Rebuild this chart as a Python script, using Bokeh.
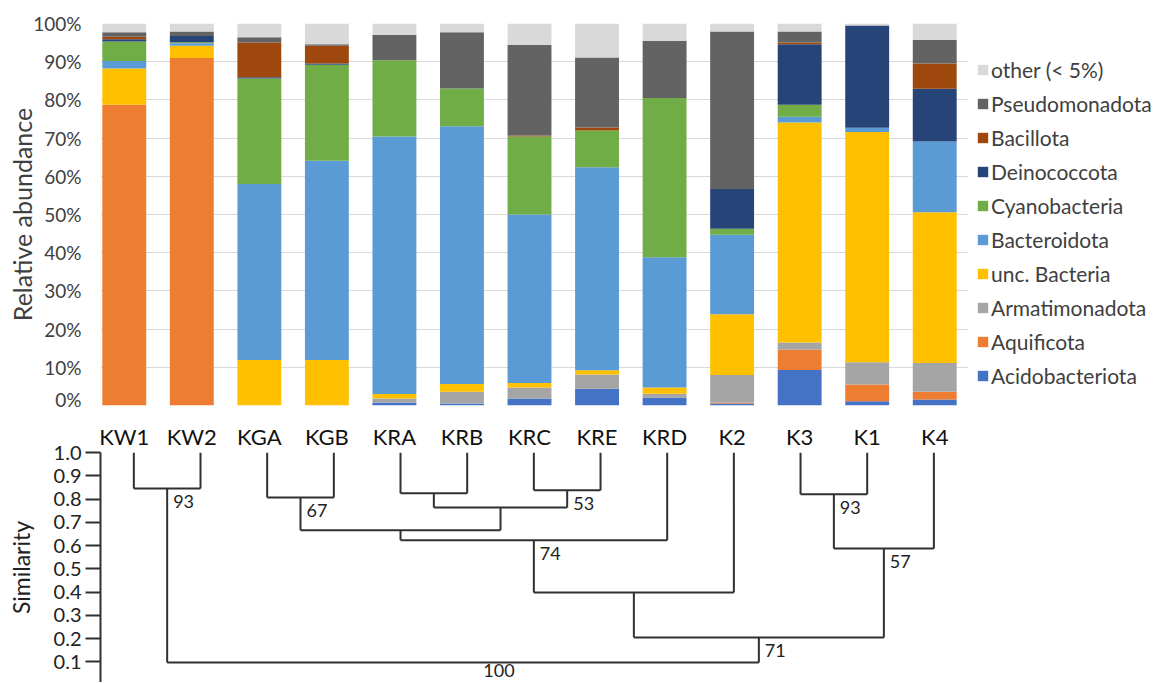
from bokeh.plotting import figure
from bokeh.models import (Range1d, FixedTicker, PrintfTickFormatter, Legend,
                          LegendItem, LinearAxis, ColumnDataSource)
from bokeh.layouts import column
from bokeh.embed import file_html
from bokeh.resources import INLINE
from bokeh.core.properties import value

# ---------------- data ----------------
samples = ["KW1", "KW2", "KGA", "KGB", "KRA", "KRB", "KRC", "KRE", "KRD", "K2", "K3", "K1", "K4"]

phyla = ["Acidobacteriota", "Aquificota", "Armatimonadota", "unc. Bacteria", "Bacteroidota",
         "Cyanobacteria", "Deinococcota", "Bacillota", "Pseudomonadota", "other (< 5%)"]

acidobacteriota = [0, 0, 0, 0, 0.8, 0.5, 1.8, 4.4, 2.1, 0.5, 9.3, 1.1, 1.6]
aquificota      = [78.7, 91.0, 0, 0, 0, 0, 0, 0, 0, 0.3, 5.3, 4.4, 2.0]
armatimonadota  = [0, 0, 0, 0, 1.0, 3.1, 2.9, 3.7, 1.0, 7.2, 1.9, 5.8, 7.5]
unc_bacteria    = [9.5, 3.2, 11.9, 11.9, 1.2, 2.0, 1.2, 1.1, 1.6, 15.9, 57.6, 60.3, 39.5]
bacteroidota    = [2.0, 0.6, 46.1, 52.2, 67.4, 67.5, 44.1, 53.2, 34.1, 20.8, 1.5, 1.1, 18.5]
cyanobacteria   = [5.1, 0.3, 27.6, 25.1, 20.0, 9.9, 20.4, 9.6, 41.7, 1.6, 3.1, 0, 0]
deinococcota    = [0.6, 1.6, 0.3, 0.3, 0, 0, 0, 0, 0, 10.4, 15.9, 26.8, 13.8]
bacillota       = [0.6, 0, 9.1, 4.7, 0, 0, 0.3, 0.8, 0, 0, 0.4, 0, 6.6]
pseudomonadota  = [1.2, 1.2, 1.4, 0.4, 6.6, 14.7, 23.7, 18.3, 15.0, 41.2, 2.9, 0, 6.2]
other           = [2.3, 2.1, 3.6, 5.4, 3.0, 2.3, 5.6, 8.9, 4.5, 2.1, 2.1, 0.5, 4.3]

percent_ticks = [0, 10, 20, 30, 40, 50, 60, 70, 80, 90, 100]

# dendrogram (leaf indices 0..12 follow `samples`; merged nodes numbered from 13 on)
merge_left       = [0, 2, 4, 6, 15, 14, 18, 19, 10, 21, 20, 13]
merge_right      = [1, 3, 5, 7, 16, 17, 8, 9, 11, 12, 22, 23]
merge_similarity = [0.845, 0.807, 0.825, 0.838, 0.764, 0.666, 0.623, 0.398, 0.820, 0.587, 0.205, 0.097]
bootstrap_nodes  = [13, 14, 16, 19, 21, 22, 23]
bootstrap_values = ["93", "67", "53", "74", "93", "57", "71"]
root_value = "100"
similarity_ticks = [0.1, 0.2, 0.3, 0.4, 0.5, 0.6, 0.7, 0.8, 0.9, 1.0]

# ---------------- style / layout ----------------
colors = ["#4472C4", "#ED7D31", "#A5A5A5", "#FFC000", "#5B9BD5",
          "#70AD47", "#264478", "#9E480E", "#636363", "#D9D9D9"]
FONT = "Lato"
GREY_TXT = "#404040"
DARK = "#222222"

LEFT = 100            # shared frame left (px) of both panels
FW = 868              # shared frame width (px)
TOTAL_W = 1160
GRID_LEFT = 90        # where the bar chart's category band starts (px)
BAR_STEP = (LEFT + FW - GRID_LEFT) / 13.0
LEAF_STEP = 66.67     # dendrogram leaf spacing (px)
BAR_FH, DEN_FH = 382, 230

n = len(samples)
idx = list(range(n))

# ---------------- bar chart ----------------
keys = ["p%d" % i for i in range(len(phyla))]
series = [acidobacteriota, aquificota, armatimonadota, unc_bacteria, bacteroidota,
          cyanobacteria, deinococcota, bacillota, pseudomonadota, other]
src = ColumnDataSource(dict(pos=idx, sample=samples, **{k: v for k, v in zip(keys, series)}))

bar_start = -0.5 + (LEFT - GRID_LEFT) / BAR_STEP
p1 = figure(x_range=Range1d(bar_start, bar_start + FW / BAR_STEP), y_range=Range1d(0, 100),
            frame_width=FW, frame_height=BAR_FH, output_backend="svg", toolbar_location=None,
            x_axis_location=None, min_border_left=LEFT,
            min_border_right=TOTAL_W - LEFT - FW, min_border_top=23, min_border_bottom=5)
p1.outline_line_color = None
renderers = p1.vbar_stack(keys, x="pos", width=0.65, color=colors, line_color=None, source=src)

yax = p1.yaxis[0]
yax.ticker = FixedTicker(ticks=percent_ticks)
yax.formatter = PrintfTickFormatter(format="%d%%")
yax.axis_line_color = None
yax.major_tick_line_color = None
yax.minor_tick_line_color = None
yax.major_label_standoff = 13
yax.major_label_text_font = FONT
yax.major_label_text_font_size = "19px"
yax.major_label_text_color = GREY_TXT
yax.axis_label = "Relative abundance"
yax.axis_label_text_font = FONT
yax.axis_label_text_font_size = "25px"
yax.axis_label_text_font_style = "normal"
yax.axis_label_text_color = GREY_TXT
yax.axis_label_standoff = -7
p1.ygrid.grid_line_color = "#D9D9D9"
p1.ygrid.grid_line_width = 1
p1.xgrid.visible = False

items = [LegendItem(label=ph, renderers=[r]) for ph, r in zip(phyla, renderers)][::-1]
legend = Legend(items=items, location=(8, 17), padding=0, margin=0, spacing=9,
                glyph_width=13, glyph_height=13, label_standoff=2,
                label_text_font=FONT, label_text_font_size="21px", label_text_color=GREY_TXT,
                border_line_color=None, background_fill_alpha=0)
p1.add_layout(legend, "right")

# ---------------- dendrogram ----------------
node_x = {i: float(i) for i in range(n)}
node_h = {i: 1.0 for i in range(n)}
x0, y0, x1, y1 = [], [], [], []
for k, (a, b, s) in enumerate(zip(merge_left, merge_right, merge_similarity)):
    nid = n + k
    xa, xb = node_x[a], node_x[b]
    x0 += [xa, xb, xa]
    y0 += [node_h[a], node_h[b], s]
    x1 += [xa, xb, xb]
    y1 += [s, s, s]
    node_x[nid] = (xa + xb) / 2.0
    node_h[nid] = s
root = n + len(merge_left) - 1

p2 = figure(x_range=Range1d(-0.5, -0.5 + FW / LEAF_STEP), y_range=Range1d(0.011, 1.0),
            frame_width=FW, frame_height=DEN_FH, output_backend="svg", toolbar_location=None,
            x_axis_location=None, min_border_left=LEFT,
            min_border_right=TOTAL_W - LEFT - FW, min_border_top=42, min_border_bottom=0)
p2.outline_line_color = None
p2.grid.visible = False
p2.segment(x0=x0, y0=y0, x1=x1, y1=y1, line_color="#303030", line_width=2)

p2.text(x=[node_x[i] for i in bootstrap_nodes], y=[node_h[i] for i in bootstrap_nodes],
        text=bootstrap_values, x_offset=6, y_offset=13, text_align="left", text_baseline="middle",
        text_font=value(FONT), text_font_size=value("18px"), text_color=DARK)
p2.text(x=[node_x[root]], y=[node_h[root]], text=[root_value], x_offset=36, y_offset=8,
        text_align="center", text_baseline="middle",
        text_font=value(FONT), text_font_size=value("18px"), text_color=DARK)

sax = p2.yaxis[0]
sax.ticker = FixedTicker(ticks=similarity_ticks)
sax.formatter = PrintfTickFormatter(format="%.1f")
sax.bounds = (0, 1)
sax.axis_line_width = 2
sax.axis_line_color = "#303030"
sax.major_tick_line_width = 2
sax.major_tick_line_color = "#303030"
sax.major_tick_out = 15
sax.major_tick_in = 0
sax.minor_tick_line_color = None
sax.major_label_standoff = 4
sax.major_label_text_font = FONT
sax.major_label_text_font_size = "20px"
sax.major_label_text_color = DARK
sax.axis_label = "Similarity"
sax.axis_label_text_font = FONT
sax.axis_label_text_font_size = "23px"
sax.axis_label_text_font_style = "normal"
sax.axis_label_text_color = DARK
sax.axis_label_standoff = 16

# sample names above the dendrogram, centred under the bars (same scale as the bar chart)
p2.extra_x_ranges = {"lab": p1.x_range}
lab_axis = LinearAxis(x_range_name="lab", ticker=FixedTicker(ticks=idx),
                      major_label_overrides={i: s for i, s in enumerate(samples)})
lab_axis.axis_line_color = None
lab_axis.major_tick_line_color = None
lab_axis.minor_tick_line_color = None
lab_axis.major_label_standoff = -3
lab_axis.major_label_text_font = FONT
lab_axis.major_label_text_font_size = "22px"
lab_axis.major_label_text_color = "#111111"
p2.add_layout(lab_axis, "above")

layout = column(p1, p2, spacing=0)
open("out.html", "w").write(file_html(layout, INLINE))
